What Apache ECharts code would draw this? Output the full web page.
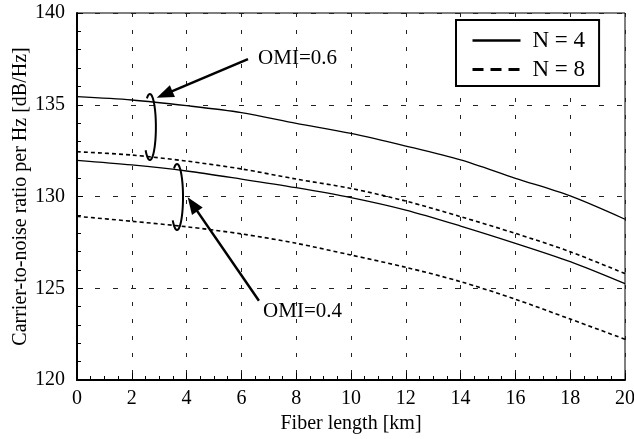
<!DOCTYPE html>
<html>
<head>
<meta charset="utf-8">
<script src="https://cdn.jsdelivr.net/npm/echarts@6/dist/echarts.min.js"></script>
<style>
html, body { margin: 0; padding: 0; background: #fff; }
#main { width: 634px; height: 439px; }
</style>
</head>
<body>
<div id="main"></div>
<script>
// fiber length [km]
var fiberLength = [0, 2, 4, 6, 8, 10, 12, 14, 16, 18, 20];
// CNR per Hz [dB/Hz]
var n4Omi06 = [135.44, 135.26, 134.95, 134.57, 133.99, 133.44, 132.75, 131.99, 130.99, 130.03, 128.76];
var n8Omi06 = [132.44, 132.26, 131.93, 131.50, 130.95, 130.44, 129.75, 128.90, 127.99, 126.99, 125.80];
var n4Omi04 = [131.97, 131.72, 131.39, 130.95, 130.48, 129.94, 129.26, 128.39, 127.45, 126.45, 125.25];
var n8Omi04 = [128.92, 128.65, 128.35, 127.96, 127.45, 126.81, 126.14, 125.36, 124.40, 123.32, 122.22];

// annotations (data coords)
var omiText = ['OMI=0.6', 'OMI=0.4'];
var omiTextPos = [[6.61, 137.53], [6.79, 123.71]];
var arrowFrom = [[6.24, 137.49], [6.64, 124.32]];
var arrowTo = [[2.91, 135.38], [4.04, 129.96]];
var loopCenter = [[2.66, 133.79], [3.65, 129.97]];

var serif = "'Liberation Serif', 'Times New Roman', serif";

function pairs(ys) {
  var out = [];
  for (var i = 0; i < fiberLength.length; i++) out.push([fiberLength[i], ys[i]]);
  return out;
}

var myChart = echarts.init(document.getElementById('main'));

function lineSeries(name, ys, dashed) {
  return {
    name: name,
    type: 'line',
    data: pairs(ys),
    smooth: 0.3,
    symbol: 'none',
    silent: true,
    itemStyle: { color: '#000' },
    lineStyle: {
      color: '#000',
      width: dashed ? 1.6 : 1.3,
      type: dashed ? [4, 3] : 'solid'
    }
  };
}

var option = {
  animation: false,
  backgroundColor: '#fff',
  grid: {
    left: 77, right: 9, top: 13, bottom: 59,
    containLabel: false,
    outerBoundsMode: 'none',
    show: true, borderColor: '#000', borderWidth: 1
  },
  legend: {
    orient: 'vertical',
    left: 456, top: 20,
    padding: [9, 14, 5, 15],
    itemWidth: 48,
    itemHeight: 14,
    itemGap: 6,
    backgroundColor: '#fff',
    borderColor: '#000',
    borderWidth: 2,
    itemStyle: { opacity: 0 },
    textStyle: { color: '#000', fontSize: 23, fontFamily: serif, padding: [0, 0, 0, 7] },
    data: [
      { name: 'N = 4', lineStyle: { color: '#000', width: 2.4, type: 'solid' } },
      { name: 'N = 8', lineStyle: { color: '#000', width: 3, type: [11, 7] } }
    ]
  },
  xAxis: {
    type: 'value',
    min: 0, max: 20, interval: 2,
    name: 'Fiber length [km]',
    nameLocation: 'middle',
    nameGap: 34,
    nameMoveOverlap: false,
    nameTextStyle: { color: '#000', fontSize: 20, fontFamily: serif },
    axisLine: { lineStyle: { color: '#000', width: 2 } },
    axisTick: { inside: true, length: 7, lineStyle: { color: '#000' } },
    minorTick: { show: true, splitNumber: 4, length: 4, lineStyle: { color: '#000' } },
    splitLine: { show: true, lineStyle: { color: '#222', width: 1, type: [4, 13] } },
    axisLabel: { color: '#000', fontSize: 20, fontFamily: serif, margin: 9 }
  },
  yAxis: {
    type: 'value',
    min: 120, max: 140, interval: 5,
    name: 'Carrier-to-noise ratio per Hz [dB/Hz]',
    nameLocation: 'middle',
    nameGap: 46,
    nameMoveOverlap: false,
    nameTextStyle: { color: '#000', fontSize: 20, fontFamily: serif },
    axisLine: { lineStyle: { color: '#000', width: 2 } },
    axisTick: { inside: true, length: 6, lineStyle: { color: '#000' } },
    minorTick: { show: true, splitNumber: 5, length: 4, lineStyle: { color: '#000' } },
    splitLine: { show: true, lineStyle: { color: '#222', width: 1, type: [5, 13] } },
    axisLabel: { color: '#000', fontSize: 20, fontFamily: serif, margin: 12 }
  },
  series: [
    lineSeries('N = 4', n4Omi06, false),
    lineSeries('N = 8', n8Omi06, true),
    lineSeries('N = 4', n4Omi04, false),
    lineSeries('N = 8', n8Omi04, true)
  ]
};

myChart.setOption(option);

// annotations: arrows, loops and labels
function px(p) { return myChart.convertToPixel({ gridIndex: 0 }, p); }

var elements = [];
for (var k = 0; k < omiText.length; k++) {
  var a = px(arrowFrom[k]), b = px(arrowTo[k]);
  var dx = b[0] - a[0], dy = b[1] - a[1];
  var len = Math.sqrt(dx * dx + dy * dy);
  var ux = dx / len, uy = dy / len;
  var headLen = 17, headW = 6.5;
  var base = [b[0] - ux * headLen, b[1] - uy * headLen];
  elements.push({
    type: 'line',
    shape: { x1: a[0], y1: a[1], x2: base[0] + ux * 2, y2: base[1] + uy * 2 },
    style: { stroke: '#000', lineWidth: 2.5 }
  });
  elements.push({
    type: 'polygon',
    shape: { points: [b, [base[0] - uy * headW, base[1] + ux * headW], [base[0] + uy * headW, base[1] - ux * headW]] },
    style: { fill: '#000' }
  });

  var c = px(loopCenter[k]);
  var pts = [];
  for (var t = -135; t <= 120; t += 5) {
    var r = t * Math.PI / 180;
    pts.push([c[0] + 6 * Math.cos(r), c[1] - 33 * Math.sin(r)]);
  }
  elements.push({
    type: 'polyline',
    shape: { points: pts, smooth: 0.3 },
    style: { stroke: '#000', lineWidth: 2, fill: null }
  });

  var tp = px(omiTextPos[k]);
  elements.push({
    type: 'text',
    x: tp[0], y: tp[1],
    style: { text: omiText[k], fill: '#000', font: '21px ' + serif, textAlign: 'left', textVerticalAlign: 'middle' }
  });
}
myChart.setOption({ graphic: elements });
</script>
</body>
</html>
